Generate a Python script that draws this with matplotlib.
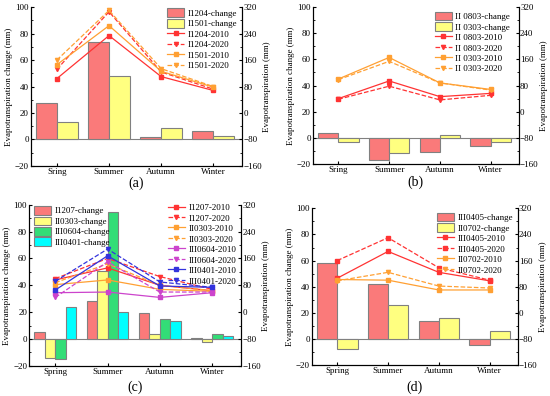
import matplotlib
matplotlib.use("Agg")
import matplotlib.pyplot as plt
import numpy as np
from matplotlib.ticker import MultipleLocator

plt.rcParams["font.family"] = ["Liberation Serif", "DejaVu Serif"]
plt.rcParams["font.size"] = 6.5

# --- data ---
seasons_ab = ["Sring", "Summer", "Autumn", "Winter"]
seasons_cd = ["Spring", "Summer", "Autumn", "Winter"]

# (a)
a_bar_names = ["I1204-change", "I1501-change"]
a_bars = [[27.5, 74.0, 1.5, 6.5],
          [13.5, 48.0, 9.0, 2.5]]
a_line_names = ["I1204-2010", "I1204-2020", "I1501-2010", "I1501-2020"]
a_lines = [[104, 234, 110, 68],
           [132, 306, 124, 72],
           [146, 264, 126, 78],
           [160, 310, 134, 80]]

# (b)
b_bar_names = ["II 0803-change", "II 0303-change"]
b_bars = [[4.0, -17.0, -11.0, -6.5],
          [-3.0, -12.0, 2.0, -3.0]]
b_line_names = ["II 0803-2010", "II 0803-2020", "II 0303-2010", "II 0303-2020"]
b_lines = [[40, 94, 46, 56],
           [38, 78, 36, 50],
           [100, 166, 88, 68],
           [98, 154, 88, 66]]

# (c)
c_bar_names = ["I1207-change", "II0303-change", "III0604-change", "III0401-change"]
c_bars = [[5.5, 28.5, 19.5, 1.0],
          [-14.0, 50.5, 3.5, -2.5],
          [-14.5, 94.5, 15.0, 4.0],
          [23.5, 20.0, 13.5, 2.0]]
c_line_names = ["I1207-2010", "I1207-2020", "II0303-2010", "II0303-2020",
                "III0604-2010", "III0604-2020", "III0401-2010", "III0401-2020"]
c_lines = [[96, 132, 80, 64],
           [100, 160, 106, 68],
           [82, 96, 68, 62],
           [88, 144, 80, 64],
           [58, 60, 44, 58],
           [44, 150, 60, 60],
           [66, 168, 78, 74],
           [92, 188, 90, 74]]

# (d)
d_bar_names = ["III0405-change", "II0702-change"]
d_bars = [[58.0, 42.0, 14.0, -4.5],
          [-7.5, 26.0, 16.0, 6.0]]
d_line_names = ["III0405-2010", "III0405-2020", "II0702-2010", "II0702-2020"]
d_lines = [[106, 188, 124, 98],
           [160, 230, 138, 100],
           [102, 100, 70, 70],
           [98, 124, 82, 76]]

BAR_COLORS = ["#FA7A7A", "#FFFF80", "#33DD77", "#00FFFF"]
RED, ORANGE, MAGENTA, BLUE = "#FF3333", "#FFA033", "#CC44CC", "#3333DD"
EDGE = "#808080"


def panel(ax, seasons, bar_names, bars, line_names, lines, line_styles, label, label_off):
    x = np.arange(len(seasons))
    n = len(bars)
    w = 0.4 if n == 2 else 0.2
    offs = (np.arange(n) - (n - 1) / 2) * w
    bar_handles = []
    for i in range(n):
        h = ax.bar(x + offs[i], bars[i], w, color=BAR_COLORS[i], edgecolor=EDGE,
                   lw=0.8, label=bar_names[i], zorder=2)
        bar_handles.append(h)
    ax.axhline(0, color=EDGE, lw=0.8, zorder=1)
    ax.set_xlim(-0.5, 3.55)
    ax.set_ylim(-20, 100)
    ax.yaxis.set_major_locator(MultipleLocator(20))
    ax.yaxis.set_minor_locator(MultipleLocator(10))
    ax.set_xticks(x)
    ax.set_xticklabels(seasons)
    ax.set_ylabel("Evapotranspiration change (mm)", labelpad=1.5)
    ax.spines["top"].set_visible(False)
    ax.tick_params(direction="in", which="both", length=2.5, pad=1.5, top=False)
    ax.tick_params(which="minor", length=1.5)

    ax2 = ax.twinx()
    ax2.set_ylim(-160, 320)
    ax2.yaxis.set_major_locator(MultipleLocator(80))
    ax2.yaxis.set_minor_locator(MultipleLocator(40))
    ax2.spines["top"].set_visible(False)
    ax2.tick_params(direction="in", which="both", length=2.5, pad=1)
    ax2.tick_params(which="minor", length=1.5)
    ax2.set_ylabel("Evapotranspiration (mm)", labelpad=1)
    line_handles = []
    for vals, name, (col, ls, mk) in zip(lines, line_names, line_styles):
        h, = ax2.plot(x, vals, color=col, ls=ls, marker=mk, ms=3, lw=0.9,
                      label=name, zorder=3)
        line_handles.append(h)
    ax.annotate(label, xy=(0.5, 0), xycoords="axes fraction",
                xytext=(0, -label_off), textcoords="offset points",
                ha="center", va="center", fontsize=10)
    return ax2, bar_handles, line_handles


fig = plt.figure(figsize=(5.5, 3.96), dpi=100)
ax_a = fig.add_axes([0.056, 0.581, 0.384, 0.401])
ax_b = fig.add_axes([0.569, 0.586, 0.374, 0.396])
ax_c = fig.add_axes([0.053, 0.076, 0.385, 0.407])
ax_d = fig.add_axes([0.567, 0.078, 0.374, 0.396])

leg_kw = dict(frameon=False, fontsize=6.5, handlelength=1.9, handleheight=1.1,
              labelspacing=0.12, borderaxespad=0.1, handletextpad=0.4)

sty_ab = [(RED, "-", "s"), (RED, "--", "v"), (ORANGE, "-", "s"), (ORANGE, "--", "v")]

a2, bh, lh = panel(ax_a, seasons_ab, a_bar_names, a_bars, a_line_names, a_lines, sty_ab, "(a)", 12.5)
a2.legend(bh + lh, a_bar_names + a_line_names, loc="upper right",
          bbox_to_anchor=(1.0, 1.02), **leg_kw)

b2, bh, lh = panel(ax_b, seasons_ab, b_bar_names, b_bars, b_line_names, b_lines, sty_ab, "(b)", 13.5)
b2.legend(bh + lh, b_bar_names + b_line_names, loc="upper right",
          bbox_to_anchor=(0.98, 1.0), **leg_kw)

sty_c = [(RED, "-", "s"), (RED, "--", "v"), (ORANGE, "-", "s"), (ORANGE, "--", "v"),
         (MAGENTA, "-", "s"), (MAGENTA, "--", "v"), (BLUE, "-", "s"), (BLUE, "--", "v")]
c2, bh, lh = panel(ax_c, seasons_cd, c_bar_names, c_bars, c_line_names, c_lines, sty_c, "(c)", 15.5)
leg1 = c2.legend(bh, c_bar_names, loc="upper left", bbox_to_anchor=(0.0, 1.02), **leg_kw)
c2.add_artist(leg1)
c2.legend(lh, c_line_names, loc="upper right", bbox_to_anchor=(1.0, 1.04), **leg_kw)

sty_d = [(RED, "-", "s"), (RED, "--", "s"), (ORANGE, "-", "s"), (ORANGE, "--", "v")]
d2, bh, lh = panel(ax_d, seasons_cd, d_bar_names, d_bars, d_line_names, d_lines, sty_d, "(d)", 16)
d2.legend(bh + lh, d_bar_names + d_line_names, loc="upper right",
          bbox_to_anchor=(1.0, 1.0), **leg_kw)

fig.savefig("out.png", dpi=100)
